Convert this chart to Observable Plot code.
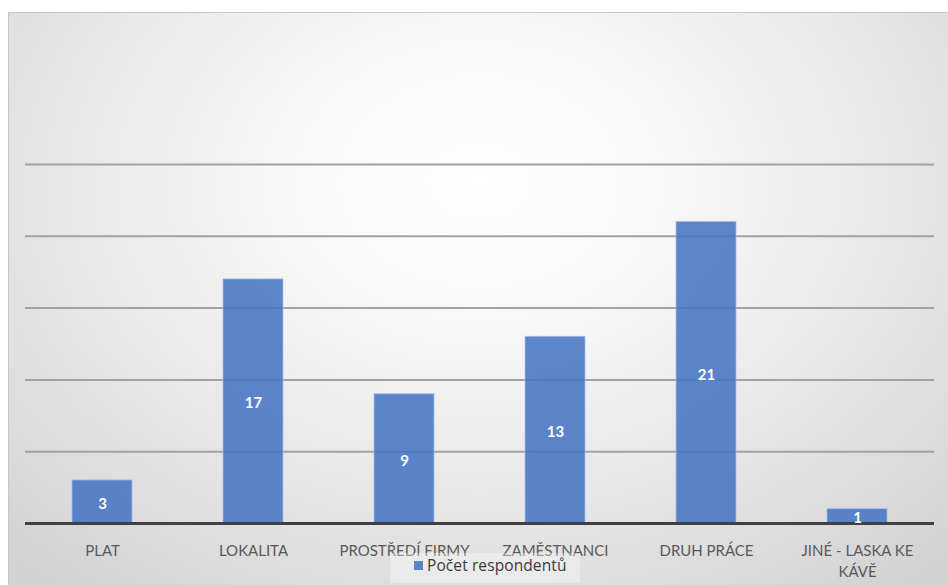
<!DOCTYPE html>
<html>
<head>
<meta charset="utf-8">
<script src="https://cdn.jsdelivr.net/npm/d3@7"></script>
<script src="https://cdn.jsdelivr.net/npm/@observablehq/plot@0.6"></script>
<style>
  html, body { margin: 0; padding: 0; background: #ffffff; }
  #frame { position: relative; width: 948px; height: 585px; overflow: hidden; font-family: Lato, "Open Sans", sans-serif; }
  #panel {
    position: absolute; left: 8px; top: 12px; width: 960px; height: 600px;
    border-left: 1px solid #c6c6c6; border-top: 1px solid #c6c6c6;
    background: radial-gradient(ellipse 70% 85% at 49% 28%, #ffffff 0%, #f7f7f7 30%, #e6e6e6 65%, #d3d3d3 100%);
  }
  #chart { position: absolute; left: 0; top: 0; }
  #legend {
    position: absolute; left: 390px; top: 553px; width: 190px; height: 30px;
    background: rgba(255,255,255,0.35);
  }
  #legend .swatch { position: absolute; left: 24px; top: 8px; width: 9px; height: 9px; background: #5a83c9; }
  #legend .label { position: absolute; left: 37px; top: 1px; font-size: 15.5px; color: #3a3a3a; font-family: "Open Sans", Lato, sans-serif; letter-spacing: 0.1px; }
</style>
</head>
<body>
<div id="frame">
  <div id="panel"></div>
  <div id="chart"></div>
  <div id="legend"><span class="swatch"></span><span class="label">Počet respondentů</span></div>
</div>
<script>
// Reasons respondents gave, and how many named each one
const categories = ["PLAT", "LOKALITA", "PROSTŘEDÍ FIRMY", "ZAMĚSTNANCI", "DRUH PRÁCE", "JINÉ - LASKA KE KÁVĚ"];
const counts = [3, 17, 9, 13, 21, 1];
const tickLabels = ["PLAT", "LOKALITA", "PROSTŘEDÍ FIRMY", "ZAMĚSTNANCI", "DRUH PRÁCE", "JINÉ - LASKA KE\nKÁVĚ"];
const gridValues = [5, 10, 15, 20, 25];

const rows = categories.map((c, i) => ({category: c, count: counts[i]}));

const chart = Plot.plot({
  width: 948,
  height: 585,
  marginLeft: 25,
  marginRight: 14,
  marginTop: 164,
  marginBottom: 62,
  style: {background: "transparent", fontFamily: "Lato, 'Open Sans', sans-serif"},
  x: {domain: categories, paddingInner: 0.604, paddingOuter: 0.302, label: null},
  y: {domain: [0, 25], axis: null},
  marks: [
    Plot.ruleY(gridValues, {stroke: "#a2a2a2", strokeWidth: 2}),
    Plot.barY(rows, {
      x: "category", y: "count",
      fill: "#4472C4", fillOpacity: 0.86,
      stroke: "#a9bfe6", strokeWidth: 1, strokeOpacity: 0.7
    }),
    Plot.ruleY([0], {stroke: "#404040", strokeWidth: 3}),
    Plot.text(rows, {
      x: "category", y: d => d.count / 2, text: d => String(d.count),
      fill: "white", fontWeight: "bold", fontSize: 15, dy: 2
    }),
    Plot.axisX({
      tickSize: 0, tickPadding: 18, fontSize: 15, fill: "#595959",
      lineAnchor: "top", lineHeight: 1.4,
      tickFormat: (d) => tickLabels[categories.indexOf(d)]
    })
  ]
});

document.getElementById("chart").appendChild(chart);
</script>
</body>
</html>
